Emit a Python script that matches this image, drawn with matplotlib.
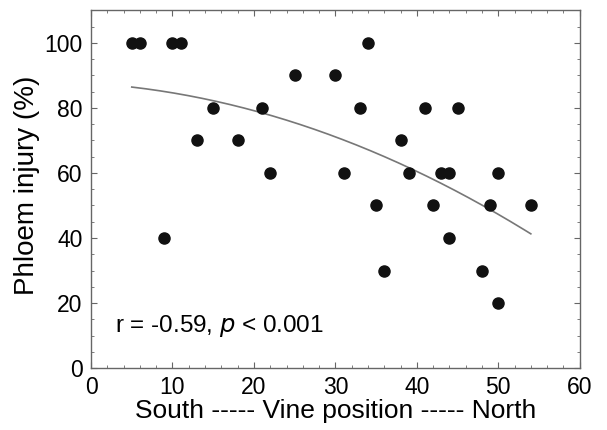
import numpy as np
import matplotlib
import matplotlib.pyplot as plt
from matplotlib.ticker import MultipleLocator

matplotlib.use("Agg")

plt.rcParams["font.family"] = ["Liberation Sans", "DejaVu Sans"]

# vine position (south -> north) and phloem injury (%)
position = [5, 6, 10, 11, 9, 13, 15, 18, 21, 22, 25, 30, 31, 33, 34, 35, 36,
            38, 39, 41, 42, 43, 44, 44, 45, 48, 49, 50, 50, 54]
injury = [100, 100, 100, 100, 40, 70, 80, 70, 80, 60, 90, 90, 60, 80, 100, 50, 30,
          70, 60, 80, 50, 60, 60, 40, 80, 30, 50, 60, 20, 50]

x_ticks = [0, 10, 20, 30, 40, 50, 60]
y_ticks = [0, 20, 40, 60, 80, 100]

fig = plt.figure(figsize=(6.07, 4.3), dpi=100)
ax = fig.add_axes([0.150, 0.144, 0.805, 0.832])

x = np.array(position, dtype=float)
y = np.array(injury, dtype=float)
coef = np.polyfit(x, y, 2)
xs = np.linspace(x.min(), x.max(), 200)
ax.plot(xs, np.polyval(coef, xs), color="#777777", linewidth=1.2, zorder=2)

ax.plot(x, y, "o", color="#111111", markersize=8, zorder=3)

ax.text(3.0, 13, r"r = -0.59, $\it{p}$ < 0.001", fontsize=17.5, va="center", ha="left")

ax.set_xlim(0, 60)
ax.set_ylim(0, 110)
ax.set_xticks(x_ticks)
ax.set_yticks(y_ticks)
ax.xaxis.set_minor_locator(MultipleLocator(2))
ax.yaxis.set_minor_locator(MultipleLocator(5))
ax.tick_params(which="both", direction="in", top=True, right=True, color="#666666")
ax.tick_params(which="major", length=4, labelsize=16.5, pad=6)
ax.tick_params(which="minor", length=2)
for s in ax.spines.values():
    s.set_color("#666666")
    s.set_linewidth(1.0)

ax.set_xlabel("South ----- Vine position ----- North", fontsize=19, labelpad=0)
ax.set_ylabel("Phloem injury (%)", fontsize=20, va="center")
ax.yaxis.set_label_coords(-0.131, 0.51)

fig.savefig("out.png", dpi=100)
